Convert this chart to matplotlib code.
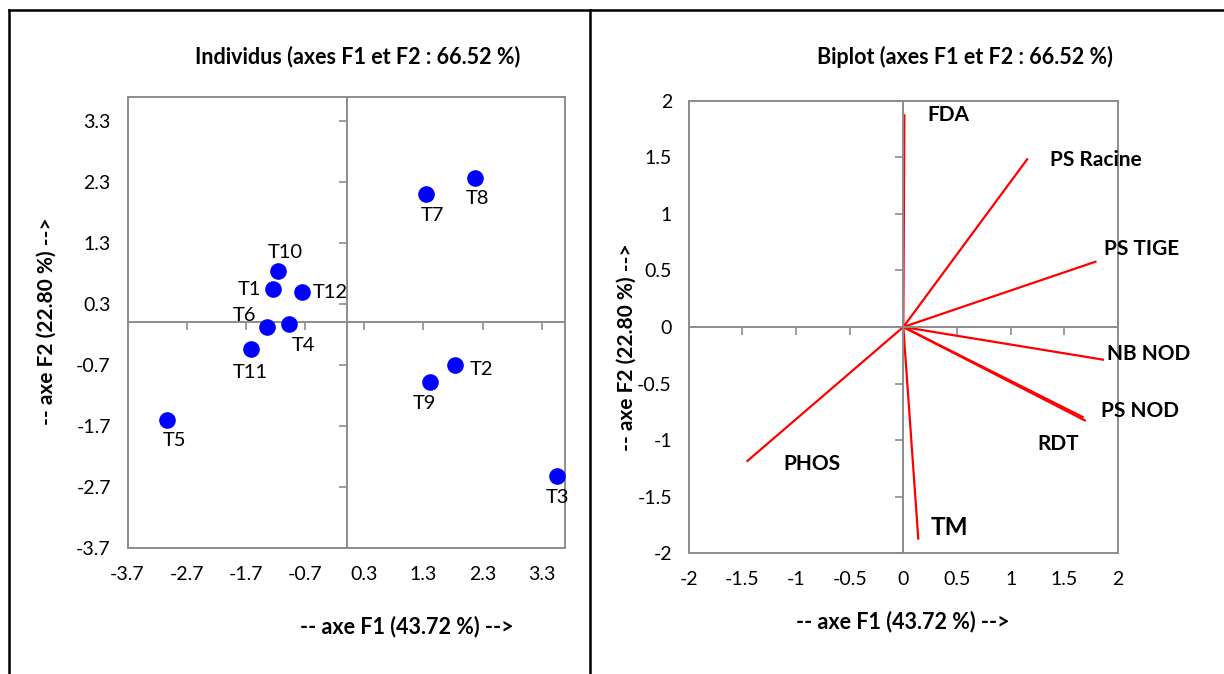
import matplotlib
matplotlib.use("Agg")
import matplotlib.pyplot as plt
from matplotlib.lines import Line2D
import numpy as np

plt.rcParams['font.family'] = ['Lato', 'DejaVu Sans']

# individus (scores F1, F2)
noms = ['T1', 'T2', 'T3', 'T4', 'T5', 'T6', 'T7', 'T8', 'T9', 'T10', 'T11', 'T12']
f1 = [-1.25, 1.84, 3.56, -0.98, -3.03, -1.34, 1.35, 2.17, 1.41, -1.15, -1.62, -0.76]
f2 = [0.54, -0.70, -2.52, -0.03, -1.60, -0.07, 2.10, 2.37, -0.98, 0.84, -0.43, 0.49]

# variables (vecteurs du biplot)
variables = ['FDA', 'PS Racine', 'PS TIGE', 'NB NOD', 'PS NOD', 'RDT', 'PHOS', 'TM']
v1 = [0.01, 1.16, 1.80, 1.87, 1.70, 1.68, -1.46, 0.14]
v2 = [1.88, 1.49, 0.58, -0.29, -0.83, -0.80, -1.19, -1.88]

GRIS = '#8c8c8c'
FS_TICK = 14
FS_LAB = 15.5

fig = plt.figure(figsize=(12.24, 6.74), dpi=100)

# cadre du tableau
for xs, ys in [([0.0074, 1.0], [0.985, 0.985]),
               ([0.0074, 0.0074], [0.0, 0.985]),
               ([0.482, 0.482], [0.0, 0.985])]:
    fig.add_artist(Line2D(xs, ys, color='black', lw=1.8, transform=fig.transFigure))


def cadre(pos, lim_x, lim_y, xt, yt, fmt):
    ax = fig.add_axes(pos)
    ax.set_xlim(*lim_x)
    ax.set_ylim(*lim_y)
    for s in ax.spines.values():
        s.set_color(GRIS)
        s.set_linewidth(1.4)
    ax.set_xticks(xt)
    ax.set_yticks(yt)
    ax.set_xticklabels([fmt(v) for v in xt])
    ax.set_yticklabels([fmt(v) for v in yt])
    ax.tick_params(length=0, labelsize=FS_TICK, colors='black')
    ax.tick_params(axis='x', pad=13)
    ax.tick_params(axis='y', pad=12)
    # axes passant par zero
    ax0 = fig.add_axes(pos)
    ax0.set_facecolor('none')
    ax0.set_xlim(*lim_x)
    ax0.set_ylim(*lim_y)
    for s in ['right', 'top']:
        ax0.spines[s].set_visible(False)
    for s in ['left', 'bottom']:
        ax0.spines[s].set_position(('data', 0))
        ax0.spines[s].set_color(GRIS)
        ax0.spines[s].set_linewidth(1.4)
    ax0.set_xticks(xt)
    ax0.set_yticks(yt)
    ax0.tick_params(direction='out', length=6, width=1.2, color=GRIS,
                    labelbottom=False, labelleft=False)
    return ax0


fmt1 = lambda v: '%.1f' % v
fmt2 = lambda v: '%g' % v

ticks1 = np.arange(-3.7, 3.4, 1.0)
axL = cadre([0.1042, 0.1869, 0.3578, 0.6697], (-3.7, 3.7), (-3.7, 3.7),
            ticks1, ticks1, fmt1)
axL.scatter(f1, f2, s=120, color='#0000ff', zorder=5, clip_on=False)

decal = {'T1': (-8, 0, 'right', 'center'), 'T2': (10, -3, 'left', 'center'),
         'T3': (0, -9, 'center', 'top'), 'T4': (2, -9, 'left', 'top'),
         'T5': (5, -9, 'center', 'top'), 'T6': (-8, 2, 'right', 'bottom'),
         'T7': (4, -9, 'center', 'top'), 'T8': (2, -9, 'center', 'top'),
         'T9': (-4, -9, 'center', 'top'), 'T10': (5, 7, 'center', 'bottom'),
         'T11': (0, -11, 'center', 'top'), 'T12': (8, 0, 'left', 'center')}
for n, x, y in zip(noms, f1, f2):
    dx, dy, ha, va = decal[n]
    axL.annotate(n, (x, y), xytext=(dx, dy), textcoords='offset points',
                 ha=ha, va=va, fontsize=14.5)

ticks2 = np.arange(-2, 2.01, 0.5)
axR = cadre([0.5626, 0.1791, 0.3508, 0.6715], (-2, 2), (-2, 2),
            ticks2, ticks2, fmt2)
for x, y in zip(v1, v2):
    axR.plot([0, x], [0, y], color='#ff0000', lw=1.6, solid_capstyle='butt')

pos_lab = {'FDA': (0.42, 1.87, 'center', 15), 'PS Racine': (1.37, 1.48, 'left', 15),
           'PS TIGE': (1.87, 0.69, 'left', 15), 'NB NOD': (1.90, -0.24, 'left', 15),
           'PS NOD': (1.84, -0.74, 'left', 15), 'RDT': (1.44, -1.03, 'center', 15),
           'PHOS': (-0.85, -1.21, 'center', 15), 'TM': (0.43, -1.77, 'center', 17.5)}
for v in variables:
    x, y, ha, fs = pos_lab[v]
    axR.text(x, y, v, ha=ha, va='center', fontsize=fs, fontweight='bold', clip_on=False)

# titres et libelles
fig.text(358 / 1224, 1 - 57 / 674, 'Individus (axes F1 et F2 : 66.52 %)',
         ha='center', va='center', fontsize=FS_LAB, fontweight='bold')
fig.text(965 / 1224, 1 - 57 / 674, 'Biplot (axes F1 et F2 : 66.52 %)',
         ha='center', va='center', fontsize=FS_LAB, fontweight='bold')
fig.text(407 / 1224, 1 - 627 / 674, '-- axe F1 (43.72 %) -->',
         ha='center', va='center', fontsize=FS_LAB, fontweight='bold')
fig.text(903 / 1224, 1 - 622 / 674, '-- axe F1 (43.72 %) -->',
         ha='center', va='center', fontsize=FS_LAB, fontweight='bold')
fig.text(47 / 1224, 1 - 321 / 674, '-- axe F2 (22.80 %) -->', rotation=90,
         ha='center', va='center', fontsize=15, fontweight='bold')
fig.text(627 / 1224, 1 - 347 / 674, '-- axe F2 (22.80 %) -->', rotation=90,
         ha='center', va='center', fontsize=15, fontweight='bold')

fig.savefig('out.png', dpi=100)
